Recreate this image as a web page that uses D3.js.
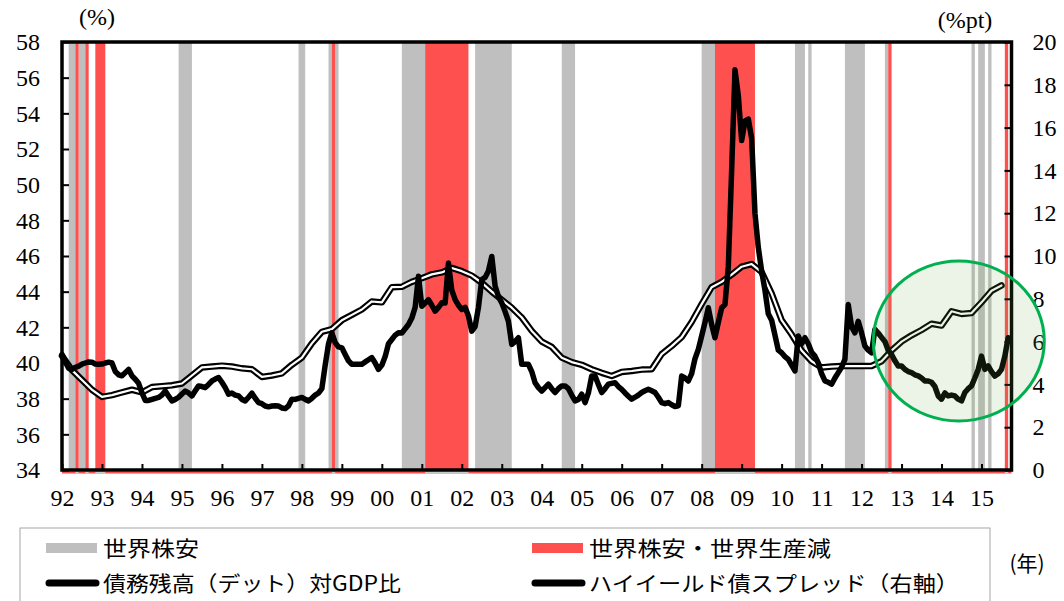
<!DOCTYPE html>
<html>
<head>
<meta charset="utf-8">
<script src="https://cdn.jsdelivr.net/npm/d3@7"></script>
<style>
  html, body { margin: 0; padding: 0; background: #fff; }
  svg { display: block; }
</style>
</head>
<body>
<svg id="chart" width="1064" height="601"></svg>
<script>
// ---- data ----
// Debt (total) to GDP ratio, %, quarterly from 1992 Q1
const debtStart = 1992;
const debtRatio = [
  40.4, 39.6, 39.05, 38.5, 38.1, 38.2, 38.35, 38.5,
  38.35, 38.65, 38.7, 38.75, 38.85, 39.3, 39.75, 39.8,
  39.85, 39.8, 39.7, 39.65, 39.22, 39.3, 39.42, 39.9,
  40.3, 41.1, 41.75, 41.9, 42.4, 42.7, 43.0, 43.45,
  43.4, 44.25, 44.27, 44.55, 44.75, 44.97, 45.08, 45.33,
  45.15, 44.9, 44.5, 44.0, 43.55, 43.1, 42.55, 41.8,
  41.2, 40.9, 40.3, 40.05, 39.9, 39.65, 39.45, 39.27,
  39.5, 39.55, 39.63, 39.65, 40.5, 40.95, 41.45, 42.3,
  43.3, 44.25, 44.55, 44.95, 45.4, 45.55, 45.1, 43.9,
  42.4, 41.6, 40.7, 40.1, 39.75, 39.8, 39.83, 39.83,
  39.83, 39.83, 40.1, 40.7, 41.2, 41.55, 41.85, 42.2,
  42.1, 42.9, 42.75, 42.8, 43.4, 44.05, 44.35
];

// High-yield bond spread, %pt, monthly from January of each year
const hy1992 = [5.40, 5.05, 4.75, 4.70, 4.80, 4.85, 4.95, 5.00, 5.05, 5.04, 4.95, 4.94];
const hy1993 = [4.95, 5.00, 5.04, 5.00, 4.60, 4.45, 4.40, 4.55, 4.70, 4.40, 4.24, 4.05];
const hy1994 = [3.60, 3.25, 3.25, 3.30, 3.35, 3.39, 3.50, 3.69, 3.45, 3.23, 3.30, 3.40];
const hy1995 = [3.55, 3.69, 3.60, 3.46, 3.70, 3.93, 3.90, 3.85, 4.00, 4.16, 4.25, 4.32];
const hy1996 = [4.10, 3.85, 3.54, 3.60, 3.50, 3.46, 3.30, 3.23, 3.40, 3.59, 3.35, 3.15];
const hy1997 = [3.10, 2.99, 2.95, 2.99, 3.00, 2.99, 2.90, 2.87, 3.00, 3.31, 3.30, 3.35];
const hy1998 = [3.39, 3.30, 3.23, 3.35, 3.50, 3.60, 3.80, 4.90, 5.90, 6.41, 5.95, 5.75];
const hy1999 = [5.71, 5.40, 5.10, 4.94, 4.94, 4.94, 4.94, 5.05, 5.15, 5.25, 5.00, 4.70];
const hy2000 = [4.90, 5.30, 5.90, 6.10, 6.30, 6.41, 6.40, 6.60, 6.80, 7.10, 7.60, 9.05];
const hy2001 = [7.65, 7.80, 7.96, 7.70, 7.42, 7.60, 7.81, 7.80, 9.67, 8.40, 7.96, 7.70];
const hy2002 = [7.50, 7.60, 7.20, 6.49, 6.70, 7.60, 8.90, 9.00, 9.30, 9.98, 8.60, 8.10];
const hy2003 = [7.81, 7.40, 6.95, 5.87, 6.00, 6.18, 4.94, 4.94, 4.94, 4.60, 4.08, 3.85];
const hy2004 = [3.69, 3.85, 4.01, 3.80, 3.62, 3.80, 3.93, 3.93, 3.80, 3.50, 3.23, 3.30];
const hy2005 = [3.54, 3.15, 3.60, 4.39, 4.39, 4.00, 3.62, 3.80, 4.01, 4.05, 4.08, 3.90];
const hy2006 = [3.77, 3.60, 3.45, 3.31, 3.40, 3.50, 3.62, 3.70, 3.77, 3.70, 3.62, 3.40];
const hy2007 = [3.15, 3.10, 3.15, 3.05, 2.97, 3.00, 4.39, 4.30, 4.16, 4.50, 5.20, 5.64];
const hy2008 = [6.26, 6.90, 7.58, 6.80, 6.18, 6.90, 7.58, 7.73, 9.50, 14.00, 18.70, 17.50];
const hy2009 = [15.40, 16.30, 16.40, 15.50, 12.00, 10.40, 9.30, 8.40, 7.30, 7.00, 6.30, 5.60];
const hy2010 = [5.48, 5.30, 5.17, 4.90, 4.63, 6.26, 5.90, 6.18, 5.90, 5.50, 5.32, 5.00];
const hy2011 = [4.50, 4.16, 4.10, 4.01, 4.30, 4.55, 4.80, 5.17, 7.73, 6.70, 6.41, 6.95];
const hy2012 = [6.41, 5.79, 5.60, 5.48, 6.57, 6.40, 6.20, 6.00, 5.60, 5.40, 5.10, 4.86];
const hy2013 = [4.86, 4.70, 4.60, 4.55, 4.45, 4.40, 4.30, 4.16, 4.16, 4.10, 3.90, 3.46];
const hy2014 = [3.31, 3.60, 3.46, 3.50, 3.46, 3.31, 3.23, 3.62, 3.80, 3.93, 4.30, 4.70];
const hy2015 = [5.32, 4.70, 4.86, 4.60, 4.39, 4.50, 4.70, 5.32, 6.18];
const hySpread = [].concat(hy1992, hy1993, hy1994, hy1995, hy1996, hy1997, hy1998, hy1999,
  hy2000, hy2001, hy2002, hy2003, hy2004, hy2005, hy2006, hy2007, hy2008, hy2009,
  hy2010, hy2011, hy2012, hy2013, hy2014, hy2015);

// Periods of global equity decline (gray) and of declines with falling global output (red)
// [first month, month after the last]
const stockSlump = [
  ["1992-03", "1992-05"], ["1992-06", "1992-08"], ["1994-12", "1995-04"],
  ["1997-12", "1998-02"], ["1998-09", "1998-10"], ["1998-11", "1998-12"],
  ["2000-07", "2001-02"], ["2002-05", "2003-04"], ["2004-07", "2004-11"],
  ["2008-01", "2008-05"], ["2010-05", "2010-08"], ["2010-09", "2010-10"],
  ["2011-08", "2012-02"], ["2012-08", "2012-09"], ["2014-10", "2014-11"],
  ["2014-12", "2015-02"], ["2015-03", "2015-04"]
];
const slumpAndOutput = [
  ["1992-05", "1992-06"], ["1992-08", "1992-09"], ["1992-11", "1993-02"],
  ["1998-10", "1998-11"], ["2001-02", "2002-03"], ["2008-05", "2009-05"],
  ["2012-09", "2012-10"], ["2015-08", "2015-09"]
];

const yearTicks = d3.range(1992, 2016);
const leftTicks = d3.range(34, 59, 2);
const rightTicks = d3.range(0, 21, 2);

const legendItems = [
  { label: "世界株安", kind: "gray" },
  { label: "世界株安・世界生産減", kind: "red" },
  { label: "債務残高（デット）対GDP比", kind: "line" },
  { label: "ハイイールド債スプレッド（右軸）", kind: "line" }
];

// ---- layout ----
const C_GRAY = "#bfbfbf", C_RED = "#ff5050";
const NUM_FONT = "'Times New Roman', 'Liberation Serif', Tinos, 'DejaVu Serif', serif";
const JP_FONT = "'Noto Sans CJK JP', 'Noto Sans CJK SC', sans-serif";
const pLeft = 62, pRight = 1011.5, pTop = 42, pBottom = 470;
const monthCount = hySpread.length;

const svg = d3.select("#chart");
const x = d3.scaleLinear().domain([1992, 1992 + monthCount / 12]).range([pLeft, pRight]);
const yL = d3.scaleLinear().domain([34, 58]).range([pBottom, pTop]);
const yR = d3.scaleLinear().domain([0, 20]).range([pBottom, pTop]);

const toYear = s => { const [yy, mm] = s.split("-").map(Number); return yy + (mm - 1) / 12; };
const numText = sel => sel.attr("font-family", NUM_FONT).attr("font-size", 24).attr("fill", "#000");
const jpText = sel => sel.attr("font-family", JP_FONT).attr("font-size", 21).attr("fill", "#000");

// shaded periods
const bandG = svg.append("g");
function drawBands(list, color) {
  bandG.selectAll(null).data(list).join("rect")
    .attr("x", d => x(toYear(d[0])))
    .attr("width", d => x(toYear(d[1])) - x(toYear(d[0])))
    .attr("y", pTop)
    .attr("height", pBottom - pTop)
    .attr("fill", color);
}
drawBands(stockSlump, C_GRAY);
drawBands(slumpAndOutput, C_RED);

// thin strip under the baseline
svg.append("line").attr("x1", pLeft).attr("x2", pRight).attr("y1", pBottom + 2.5).attr("y2", pBottom + 2.5)
  .attr("stroke", C_RED).attr("stroke-width", 2);
svg.append("g").selectAll("line").data(slumpAndOutput).join("line")
  .attr("x1", d => x(toYear(d[0]))).attr("x2", d => x(toYear(d[1])))
  .attr("y1", pBottom + 2.5).attr("y2", pBottom + 2.5)
  .attr("stroke", "#c8c8c8").attr("stroke-width", 2);

// debt ratio: double line (black outline, white core)
const debtLine = d3.line()
  .x((d, i) => x(debtStart + i / 4))
  .y(d => yL(d));
svg.append("path").datum(debtRatio).attr("d", debtLine)
  .attr("fill", "none").attr("stroke", "#000").attr("stroke-width", 6.5)
  .attr("stroke-linejoin", "round").attr("stroke-linecap", "round");
svg.append("path").datum(debtRatio).attr("d", debtLine)
  .attr("fill", "none").attr("stroke", "#fff").attr("stroke-width", 2.2)
  .attr("stroke-linejoin", "round").attr("stroke-linecap", "round");

// high-yield spread
const hyLine = d3.line()
  .x((d, i) => x(1992 + i / 12))
  .y(d => yR(d));
svg.append("path").datum(hySpread).attr("d", hyLine)
  .attr("fill", "none").attr("stroke", "#000").attr("stroke-width", 5.5)
  .attr("stroke-linejoin", "round").attr("stroke-linecap", "round");

// frame
svg.append("rect").attr("x", pLeft).attr("y", pTop).attr("width", pRight - pLeft).attr("height", pBottom - pTop)
  .attr("fill", "none").attr("stroke", "#000").attr("stroke-width", 3.5);

// axes
const axL = svg.append("g").attr("transform", `translate(${pLeft},0)`)
  .call(d3.axisLeft(yL).tickValues(leftTicks).tickSize(-7).tickPadding(22).tickFormat(d3.format("d")));
const axR = svg.append("g").attr("transform", `translate(${pRight},0)`)
  .call(d3.axisRight(yR).tickValues(rightTicks).tickSize(-7).tickPadding(21).tickFormat(d3.format("d")));
const axB = svg.append("g").attr("transform", `translate(0,${pBottom})`)
  .call(d3.axisBottom(x).tickValues(yearTicks).tickSize(-6).tickPadding(19)
    .tickFormat(d => String(d % 100).padStart(2, "0")));
[axL, axR, axB].forEach(g => {
  g.call(numText);
  g.select(".domain").remove();
  g.selectAll(".tick line").attr("stroke", "#000").attr("stroke-width", 2);
  g.selectAll("text").call(numText);
});

// unit labels
svg.append("text").attr("x", 97).attr("y", 25).attr("text-anchor", "middle").text("(%)").call(numText);
svg.append("text").attr("x", 965).attr("y", 28).attr("text-anchor", "middle").text("(%pt)").call(numText);

// highlight circle
svg.append("ellipse").attr("cx", 958.8).attr("cy", 341).attr("rx", 85.5).attr("ry", 80)
  .attr("fill", "#70ad47").attr("fill-opacity", 0.13)
  .attr("stroke", "#00b050").attr("stroke-width", 3);

// legend
svg.append("rect").attr("x", 20).attr("y", 528).attr("width", 970).attr("height", 90)
  .attr("fill", "none").attr("stroke", "#a6a6a6").attr("stroke-width", 1);
const legPos = [
  { sx: 46, tx: 103, y: 548, w: 96 },
  { sx: 532, tx: 589, y: 548, w: 242 },
  { sx: 46, tx: 103, y: 583, w: 298 },
  { sx: 532, tx: 589, y: 583, w: 370 }
];
legendItems.forEach((it, i) => {
  const p = legPos[i];
  if (it.kind === "line") {
    svg.append("line").attr("x1", p.sx + 3).attr("x2", p.sx + 50).attr("y1", p.y).attr("y2", p.y)
      .attr("stroke", "#000").attr("stroke-width", 7).attr("stroke-linecap", "round");
  } else {
    svg.append("rect").attr("x", p.sx).attr("y", p.y - 5).attr("width", 51).attr("height", 10)
      .attr("fill", it.kind === "gray" ? C_GRAY : C_RED);
  }
  svg.append("text").attr("x", p.tx).attr("y", p.y + 8)
    .attr("textLength", p.w).attr("lengthAdjust", "spacingAndGlyphs").text(it.label).call(jpText);
});
svg.append("text").attr("x", 1027).attr("y", 571).attr("text-anchor", "middle").text("(年)").call(jpText);
</script>
</body>
</html>
